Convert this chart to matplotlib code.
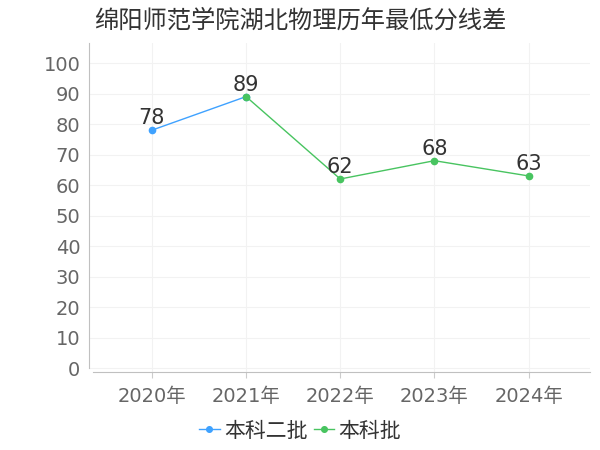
import matplotlib.pyplot as plt
import numpy as np

plt.rcParams['font.family'] = ['DejaVu Sans', 'Noto Sans CJK SC']
plt.rcParams['axes.unicode_minus'] = False

# ---- data ----
years = ['2020年', '2021年', '2022年', '2023年', '2024年']
s1_name = '本科二批'
s1_idx = [0, 1]
s1_vals = [78, 89]
s2_name = '本科批'
s2_idx = [1, 2, 3, 4]
s2_vals = [89, 62, 68, 63]
title = '绵阳师范学院湖北物理历年最低分线差'

BLUE = '#3fa2ff'
GREEN = '#48c460'

fig = plt.figure(figsize=(6, 4.5), dpi=100)
ax = fig.add_axes([0.148, 0.173, 0.835, 0.731])

ax.plot(s1_idx, s1_vals, color=BLUE, lw=1, marker='o', ms=4.5, label=s1_name, zorder=3)
ax.plot(s2_idx, s2_vals, color=GREEN, lw=1, marker='o', ms=4.5, label=s2_name, zorder=3)

# labels over points (2021 shared)
labels = {}
for i, v in zip(s1_idx, s1_vals):
    labels[i] = v
for i, v in zip(s2_idx, s2_vals):
    labels[i] = v
for i, v in labels.items():
    ax.annotate(str(v), (i, v), xytext=(0, 1.5), textcoords='offset points',
                ha='center', va='bottom', fontsize=15, color='#333333')

ax.set_xlim(-0.67, 4.65)
ax.set_ylim(-1.3, 106.5)
ax.set_yticks(np.arange(0, 101, 10))
ax.set_xticks(range(len(years)))
ax.set_xticklabels(years)
ax.tick_params(axis='y', labelsize=14, colors='#666666', length=0, pad=6)
ax.tick_params(axis='x', labelsize=14, colors='#666666', length=4, pad=7)
ax.tick_params(axis='x', color='#cccccc')
ax.grid(True, color='#f2f2f2', lw=0.8)
ax.set_axisbelow(True)

for s in ['top', 'right']:
    ax.spines[s].set_visible(False)
ax.spines['left'].set_color('#c0c0c0')
ax.spines['bottom'].set_color('#c0c0c0')
ax.spines['left'].set_bounds(0, 106.5)
ax.spines['bottom'].set_bounds(-0.63, 4.65)

fig.text(0.5, 0.953, title, ha='center', va='center', fontsize=17.5,
         color='#333333', family=['Noto Sans CJK SC', 'DejaVu Sans'])

leg = fig.legend(loc='center', bbox_to_anchor=(0.5, 0.043), ncol=2, frameon=False,
                 prop={'family': ['Noto Sans CJK SC', 'DejaVu Sans'], 'size': 15},
                 handlelength=1.0, handletextpad=0.2, columnspacing=0.3, markerscale=0.9)
for t in leg.get_texts():
    t.set_color('#333333')

fig.savefig('out.png', dpi=100, facecolor='white')
